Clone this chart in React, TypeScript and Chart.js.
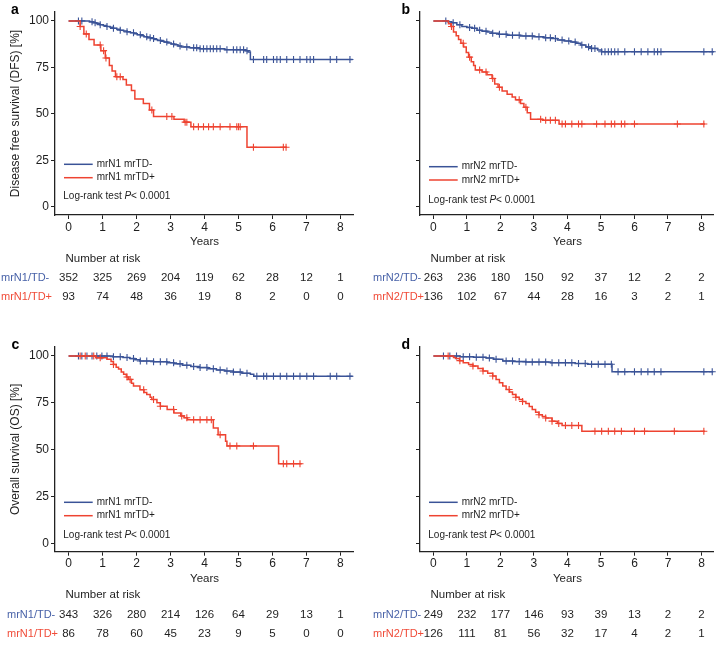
import React, { useEffect, useRef } from "react";
import { Chart, registerables } from "chart.js";

Chart.register(...registerables);

const FONT = '"Liberation Sans", Arial, Helvetica, sans-serif';
const BLUE = "#3a5397";
const RED = "#ee4331";
const BLUE_TXT = "#4862a8";
const RED_TXT = "#f04b38";
const INK = "#1e1e1e";

const yearTicks = [0, 1, 2, 3, 4, 5, 6, 7, 8];
const survivalTicks = [0, 25, 50, 75, 100];

// ---------- Panel a : DFS, mrN1 ----------
const aNegTimes = [0, 0.62, 0.72, 0.82, 0.92, 1.02, 1.12, 1.22, 1.32, 1.42, 1.52, 1.62, 1.72, 1.82, 1.92, 2.02, 2.12, 2.22, 2.32, 2.42, 2.52, 2.62, 2.72, 2.82, 2.92, 3.02, 3.12, 3.22, 3.32, 3.55, 3.85, 4.6, 5.2, 5.28, 5.35, 8.36];
const aNegSurv = [100, 99.5, 99, 98.6, 98, 97.5, 97, 96.6, 96, 95.5, 95, 94.6, 94.1, 93.6, 93.1, 92.6, 92, 91.5, 91, 90.5, 90, 89.5, 89, 88.6, 88.1, 87.6, 87.1, 86.5, 86, 85.5, 85, 84.5, 84, 83.2, 79.2, 79.2];
const aNegCensor = [0.29, 0.39, 0.69, 0.78, 0.93, 1.13, 1.32, 1.52, 1.72, 1.91, 2.11, 2.3, 2.4, 2.5, 2.7, 2.89, 3.09, 3.28, 3.48, 3.68, 3.77, 3.87, 3.97, 4.07, 4.17, 4.26, 4.36, 4.46, 4.66, 4.85, 4.95, 5.05, 5.15, 5.25, 5.44, 5.74, 5.83, 6.03, 6.13, 6.23, 6.42, 6.62, 6.81, 7.01, 7.11, 7.21, 7.7, 7.89, 8.28];
const aPosTimes = [0, 0.34, 0.45, 0.6, 0.75, 0.95, 1.08, 1.2, 1.28, 1.38, 1.6, 1.7, 1.85, 1.95, 2.2, 2.38, 2.5, 3.1, 3.4, 3.6, 5.25, 6.42];
const aPosSurv = [100, 97, 93, 90, 87, 84, 80, 76, 73, 70, 68.5, 65.5, 62.5, 58, 55.5, 52, 48.5, 47, 45.5, 43, 32, 32];
const aPosCensor = [0.34, 0.52, 0.93, 1.03, 1.1, 1.42, 1.52, 2.45, 2.89, 3.04, 3.43, 3.48, 3.68, 3.82, 3.97, 4.12, 4.26, 4.46, 4.75, 4.95, 5.0, 5.05, 5.44, 6.32, 6.4];
const aRiskNeg = [352, 325, 269, 204, 119, 62, 28, 12, 1];
const aRiskPos = [93, 74, 48, 36, 19, 8, 2, 0, 0];

// ---------- Panel b : DFS, mrN2 ----------
const bNegTimes = [0, 0.42, 0.55, 0.7, 0.85, 1.0, 1.15, 1.3, 1.45, 1.6, 1.75, 1.95, 2.2, 2.6, 3.0, 3.3, 3.5, 3.7, 3.9, 4.1, 4.25, 4.4, 4.55, 4.7, 4.9, 5.02, 8.37];
const bNegSurv = [100, 99.6, 99, 98, 97, 96.5, 96, 95, 94.5, 94, 93.3, 92.8, 92.3, 91.9, 91.5, 91, 90.5, 89.7, 89.2, 88.6, 88, 87, 86, 85.2, 84.3, 83.4, 83.4];
const bNegCensor = [0.37, 0.59, 0.79, 1.08, 1.23, 1.38, 1.57, 1.77, 1.97, 2.17, 2.36, 2.56, 2.76, 2.95, 3.15, 3.35, 3.49, 3.64, 3.84, 4.04, 4.23, 4.43, 4.63, 4.72, 4.82, 5.02, 5.12, 5.22, 5.31, 5.41, 5.51, 5.71, 6.0, 6.2, 6.4, 6.59, 6.69, 6.79, 8.07, 8.32];
const bPosTimes = [0, 0.45, 0.52, 0.6, 0.68, 0.75, 0.82, 0.9, 0.98, 1.05, 1.13, 1.2, 1.25, 1.45, 1.6, 1.75, 1.83, 1.93, 2.05, 2.2, 2.35, 2.45, 2.6, 2.7, 2.8, 2.9, 3.25, 3.75, 8.1];
const bPosSurv = [100, 98.5, 97, 94, 92, 90, 88, 86, 83, 80.5, 78, 76, 73.6, 72.5, 71, 69, 66, 64.3, 62.3, 60.5, 59, 57.5, 55.5, 53.5, 50.5, 47, 46.5, 44.5, 44.5];
const bPosCensor = [0.54, 0.89, 1.08, 1.38, 1.57, 1.77, 1.97, 2.56, 2.76, 3.2, 3.35, 3.49, 3.64, 3.84, 3.94, 4.13, 4.33, 4.43, 4.87, 5.12, 5.31, 5.41, 5.61, 5.71, 6.0, 7.28, 8.07];
const bRiskNeg = [263, 236, 180, 150, 92, 37, 12, 2, 2];
const bRiskPos = [136, 102, 67, 44, 28, 16, 3, 2, 1];

// ---------- Panel c : OS, mrN1 ----------
const cNegTimes = [0, 1.3, 1.6, 1.8, 1.95, 2.1, 2.5, 2.9, 3.1, 3.35, 3.6, 3.85, 4.1, 4.35, 4.6, 4.85, 5.1, 5.35, 5.45, 8.36];
const cNegSurv = [100, 99.6, 99.2, 98.6, 98, 97.3, 96.9, 96.4, 95.8, 95, 94.4, 93.8, 93.2, 92.5, 92, 91.4, 90.8, 90.2, 89.2, 89.2];
const cNegCensor = [0.29, 0.39, 0.54, 0.69, 0.83, 0.98, 1.13, 1.32, 1.52, 1.72, 1.91, 2.11, 2.3, 2.5, 2.7, 2.89, 3.09, 3.28, 3.48, 3.68, 3.87, 4.07, 4.26, 4.46, 4.66, 4.85, 5.05, 5.25, 5.54, 5.74, 5.83, 6.03, 6.23, 6.42, 6.62, 6.81, 7.01, 7.21, 7.7, 7.89, 8.28];
const cPosTimes = [0, 0.8, 1.13, 1.25, 1.32, 1.4, 1.47, 1.55, 1.62, 1.7, 1.76, 1.85, 1.91, 2.1, 2.22, 2.3, 2.4, 2.45, 2.6, 2.7, 2.9, 3.1, 3.3, 3.4, 3.5, 4.26, 4.4, 4.62, 4.66, 6.18, 6.86];
const cPosSurv = [100, 99, 98.2, 97, 95.5, 94, 93, 91.5, 90.2, 88.8, 87.5, 85.5, 84, 82, 80.5, 79.5, 78, 76.8, 75, 73.2, 71.4, 69.6, 68, 67, 66, 61.6, 58, 54.5, 52, 42.5, 42.5];
const cPosCensor = [0.34, 0.49, 0.74, 0.93, 1.32, 1.72, 1.81, 2.21, 2.5, 2.7, 3.09, 3.33, 3.48, 3.68, 3.87, 4.07, 4.2, 4.46, 4.75, 4.95, 5.44, 6.32, 6.42, 6.62, 6.81];
const cRiskNeg = [343, 326, 280, 214, 126, 64, 29, 13, 1];
const cRiskPos = [86, 78, 60, 45, 23, 9, 5, 0, 0];

// ---------- Panel d : OS, mrN2 ----------
const dNegTimes = [0, 0.8, 1.2, 1.57, 1.8, 2.07, 2.4, 2.76, 3.5, 4.23, 4.6, 5.33, 8.35];
const dNegSurv = [100, 99.6, 99.3, 98.9, 98.2, 97.3, 97, 96.8, 96.4, 96, 95.6, 91.6, 91.6];
const dNegCensor = [0.3, 0.49, 0.69, 0.89, 1.08, 1.28, 1.48, 1.67, 1.87, 2.17, 2.36, 2.56, 2.76, 2.95, 3.15, 3.35, 3.54, 3.74, 3.94, 4.13, 4.33, 4.53, 4.72, 4.92, 5.12, 5.31, 5.51, 5.71, 6.0, 6.2, 6.4, 6.59, 6.79, 8.07, 8.32];
const dPosTimes = [0, 0.6, 0.66, 0.78, 0.89, 1.05, 1.18, 1.33, 1.48, 1.62, 1.77, 1.87, 1.97, 2.07, 2.17, 2.27, 2.36, 2.46, 2.56, 2.66, 2.76, 2.86, 2.95, 3.05, 3.15, 3.25, 3.35, 3.54, 3.7, 3.84, 4.43, 8.1];
const dPosSurv = [100, 99.2, 98.6, 97.5, 96.4, 95.5, 94.6, 93.3, 92, 90.8, 89.3, 87.5, 85.7, 84, 82.1, 80.8, 79.5, 78, 76.8, 75.7, 74.6, 73, 71.4, 70, 68.6, 67.7, 66.9, 65.2, 64, 62.9, 59.8, 59.8];
const dPosCensor = [0.44, 0.79, 1.18, 1.48, 1.77, 2.26, 2.46, 2.66, 3.15, 3.35, 3.54, 3.74, 3.94, 4.13, 4.33, 4.82, 5.02, 5.22, 5.41, 5.61, 6.0, 6.3, 7.19, 8.07];
const dRiskNeg = [249, 232, 177, 146, 93, 39, 13, 2, 2];
const dRiskPos = [126, 111, 81, 56, 32, 17, 4, 2, 1];

function stepValue(times: number[], surv: number[], t: number): number {
  let v = surv[0];
  for (let i = 0; i < times.length; i++) {
    if (times[i] <= t) v = surv[i];
    else break;
  }
  return v;
}

type PanelCfg = {
  letter: string;
  left: number;
  top: number;
  width: number;
  height: number;
  padTop: number;
  padRight: number;
  yWidth: number;
  xHeight: number;
  yTitle: string;
  showYLabels: boolean;
  negLegend: string;
  posLegend: string;
  riskNegLabel: string;
  riskPosLabel: string;
  negTimes: number[];
  negSurv: number[];
  negCensor: number[];
  posTimes: number[];
  posSurv: number[];
  posCensor: number[];
  riskNeg: number[];
  riskPos: number[];
  letterX: number;
  letterY: number;
  riskLabelX: number;
  legendDy: number[];
  logRankDy: number;
};

const panels: PanelCfg[] = [
  {
    letter: "a", left: 0, top: 0, width: 360, height: 320, padTop: 12, padRight: 7, yWidth: 55, xHeight: 105,
    yTitle: "Disease free survival (DFS) [%]", showYLabels: true,
    negLegend: "mrN1 mrTD-", posLegend: "mrN1 mrTD+", riskNegLabel: "mrN1/TD-", riskPosLabel: "mrN1/TD+",
    negTimes: aNegTimes, negSurv: aNegSurv, negCensor: aNegCensor,
    posTimes: aPosTimes, posSurv: aPosSurv, posCensor: aPosCensor,
    riskNeg: aRiskNeg, riskPos: aRiskPos,
    letterX: 11, letterY: 13.5, riskLabelX: 1, legendDy: [-50.7, -37.3], logRankDy: -18.3,
  },
  {
    letter: "b", left: 360, top: 0, width: 359, height: 320, padTop: 12, padRight: 2, yWidth: 60, xHeight: 105,
    yTitle: "", showYLabels: false,
    negLegend: "mrN2 mrTD-", posLegend: "mrN2 mrTD+", riskNegLabel: "mrN2/TD-", riskPosLabel: "mrN2/TD+",
    negTimes: bNegTimes, negSurv: bNegSurv, negCensor: bNegCensor,
    posTimes: bPosTimes, posSurv: bPosSurv, posCensor: bPosCensor,
    riskNeg: bRiskNeg, riskPos: bRiskPos,
    letterX: 41.5, letterY: 13.5, riskLabelX: 13, legendDy: [-48.3, -35], logRankDy: -15,
  },
  {
    letter: "c", left: 0, top: 320, width: 360, height: 325, padTop: 27, padRight: 7, yWidth: 55, xHeight: 93.3,
    yTitle: "Overall survival (OS) [%]", showYLabels: true,
    negLegend: "mrN1 mrTD-", posLegend: "mrN1 mrTD+", riskNegLabel: "mrN1/TD-", riskPosLabel: "mrN1/TD+",
    negTimes: cNegTimes, negSurv: cNegSurv, negCensor: cNegCensor,
    posTimes: cPosTimes, posSurv: cPosSurv, posCensor: cPosCensor,
    riskNeg: cRiskNeg, riskPos: cRiskPos,
    letterX: 11.5, letterY: 29.3, riskLabelX: 7, legendDy: [-49.4, -36], logRankDy: -16.7,
  },
  {
    letter: "d", left: 360, top: 320, width: 359, height: 325, padTop: 27, padRight: 2, yWidth: 60, xHeight: 93.3,
    yTitle: "", showYLabels: false,
    negLegend: "mrN2 mrTD-", posLegend: "mrN2 mrTD+", riskNegLabel: "mrN2/TD-", riskPosLabel: "mrN2/TD+",
    negTimes: dNegTimes, negSurv: dNegSurv, negCensor: dNegCensor,
    posTimes: dPosTimes, posSurv: dPosSurv, posCensor: dPosCensor,
    riskNeg: dRiskNeg, riskPos: dRiskPos,
    letterX: 41.5, letterY: 29.3, riskLabelX: 13, legendDy: [-49.4, -36], logRankDy: -16.7,
  },
];

function makeOverlay(cfg: PanelCfg) {
  return {
    id: "kmOverlay",
    afterDraw(chart: any) {
      const ctx: CanvasRenderingContext2D = chart.ctx;
      const ca = chart.chartArea;
      const xs = chart.scales.x;
      ctx.save();
      // panel letter
      ctx.textAlign = "left";
      ctx.textBaseline = "alphabetic";
      ctx.fillStyle = "#000";
      ctx.font = `bold 14px ${FONT}`;
      ctx.fillText(cfg.letter, cfg.letterX, cfg.letterY);

      // legend
      ctx.textBaseline = "middle";
      ctx.font = `10px ${FONT}`;
      const rows: [string, string, number][] = [
        [cfg.negLegend, BLUE, cfg.legendDy[0]],
        [cfg.posLegend, RED, cfg.legendDy[1]],
      ];
      rows.forEach(([label, color, dy]) => {
        const y = ca.bottom + dy;
        ctx.strokeStyle = color;
        ctx.lineWidth = 1.5;
        ctx.beginPath();
        ctx.moveTo(ca.left + 9, y);
        ctx.lineTo(ca.left + 37.7, y);
        ctx.stroke();
        ctx.fillStyle = INK;
        ctx.fillText(label, ca.left + 41.7, y);
      });

      // log-rank
      let lx = ca.left + 8.3;
      const ly = ca.bottom + cfg.logRankDy;
      ctx.font = `10px ${FONT}`;
      const p1 = "Log-rank test ";
      ctx.fillText(p1, lx, ly);
      lx += ctx.measureText(p1).width;
      ctx.font = `italic 10px ${FONT}`;
      ctx.fillText("P", lx, ly);
      lx += ctx.measureText("P").width;
      ctx.font = `10px ${FONT}`;
      ctx.fillText("< 0.0001", lx, ly);

      // x title
      ctx.font = `11.5px ${FONT}`;
      ctx.textAlign = "center";
      ctx.fillText("Years", xs.getPixelForValue(4), ca.bottom + 27.3);

      // number at risk
      ctx.textAlign = "left";
      ctx.fillText("Number at risk", ca.left + 10.5, ca.bottom + 43.5);

      const riskRows: [string, string, number[], number][] = [
        [cfg.riskNegLabel, BLUE_TXT, cfg.riskNeg, 63.3],
        [cfg.riskPosLabel, RED_TXT, cfg.riskPos, 82.3],
      ];
      riskRows.forEach(([label, color, vals, dy]) => {
        const y = ca.bottom + dy;
        ctx.textAlign = "left";
        ctx.font = `11px ${FONT}`;
        ctx.fillStyle = color;
        ctx.fillText(label, cfg.riskLabelX, y);
        ctx.textAlign = "center";
        ctx.font = `11.5px ${FONT}`;
        ctx.fillStyle = INK;
        vals.forEach((v, i) => {
          ctx.fillText(String(v), xs.getPixelForValue(yearTicks[i]), y);
        });
      });
      ctx.restore();
    },
  };
}

function Panel({ cfg }: { cfg: PanelCfg }) {
  const ref = useRef<HTMLCanvasElement | null>(null);
  useEffect(() => {
    if (!ref.current) return;
    const toPts = (times: number[], surv: number[]) => times.map((t, i) => ({ x: t, y: surv[i] }));
    const censorPts = (cens: number[], times: number[], surv: number[]) =>
      cens.map((t) => ({ x: t, y: stepValue(times, surv, t) }));
    const chart = new Chart(ref.current, {
      type: "line",
      data: {
        datasets: [
          {
            type: "scatter",
            label: cfg.posLegend + " censored",
            data: censorPts(cfg.posCensor, cfg.posTimes, cfg.posSurv),
            pointStyle: "cross",
            pointRadius: 3.5,
            pointBorderWidth: 1.1,
            borderColor: RED,
            backgroundColor: RED,
            showLine: false,
            clip: false,
          } as any,
          {
            type: "line",
            label: cfg.posLegend,
            data: toPts(cfg.posTimes, cfg.posSurv),
            stepped: "before",
            borderColor: RED,
            borderWidth: 1.5,
            pointRadius: 0,
            fill: false,
            clip: false,
          } as any,
          {
            type: "scatter",
            label: cfg.negLegend + " censored",
            data: censorPts(cfg.negCensor, cfg.negTimes, cfg.negSurv),
            pointStyle: "cross",
            pointRadius: 3.5,
            pointBorderWidth: 1.1,
            borderColor: BLUE,
            backgroundColor: BLUE,
            showLine: false,
            clip: false,
          } as any,
          {
            type: "line",
            label: cfg.negLegend,
            data: toPts(cfg.negTimes, cfg.negSurv),
            stepped: "before",
            borderColor: BLUE,
            borderWidth: 1.5,
            pointRadius: 0,
            fill: false,
            clip: false,
          } as any,
        ],
      },
      options: {
        animation: false,
        responsive: false,
        maintainAspectRatio: false,
        events: [],
        layout: { padding: { left: 0, top: cfg.padTop, right: cfg.padRight, bottom: 0 } },
        plugins: { legend: { display: false }, tooltip: { enabled: false } },
        scales: {
          x: {
            type: "linear",
            min: -0.4,
            max: 8.37,
            afterBuildTicks: (s: any) => {
              s.ticks = yearTicks.map((v) => ({ value: v }));
            },
            afterFit: (s: any) => {
              s.height = cfg.xHeight;
            },
            ticks: {
              font: { family: FONT, size: 12 },
              color: INK,
              padding: 1,
              maxRotation: 0,
              autoSkip: false,
            },
            grid: { display: true, drawOnChartArea: false, drawTicks: true, tickLength: 4, color: "#222", lineWidth: 1 },
            border: { display: true, color: "#222", width: 1.3 },
            title: { display: false },
          },
          y: {
            type: "linear",
            min: -4.5,
            max: 104.8,
            afterBuildTicks: (s: any) => {
              s.ticks = survivalTicks.map((v) => ({ value: v }));
            },
            afterFit: (s: any) => {
              s.width = cfg.yWidth;
            },
            ticks: {
              font: { family: FONT, size: 12 },
              color: INK,
              padding: 2,
              callback: (v: any) => (cfg.showYLabels ? String(v) : ""),
            },
            grid: { display: true, drawOnChartArea: false, drawTicks: true, tickLength: 4, color: "#222", lineWidth: 1 },
            border: { display: true, color: "#222", width: 1.3 },
            title: {
              display: cfg.yTitle !== "",
              text: cfg.yTitle,
              font: { family: FONT, size: 12 },
              color: INK,
              padding: { top: 8, bottom: 0 },
            },
          },
        },
      },
      plugins: [makeOverlay(cfg)],
    } as any);
    return () => chart.destroy();
  }, [cfg]);
  return (
    <canvas
      ref={ref}
      width={cfg.width}
      height={cfg.height}
      style={{ position: "absolute", left: cfg.left, top: cfg.top, width: cfg.width, height: cfg.height }}
    />
  );
}

export default function App() {
  return (
    <div style={{ position: "fixed", left: 0, top: 0, width: 719, height: 645, background: "#fff", overflow: "hidden" }}>
      {panels.map((p) => (
        <Panel key={p.letter} cfg={p} />
      ))}
    </div>
  );
}
